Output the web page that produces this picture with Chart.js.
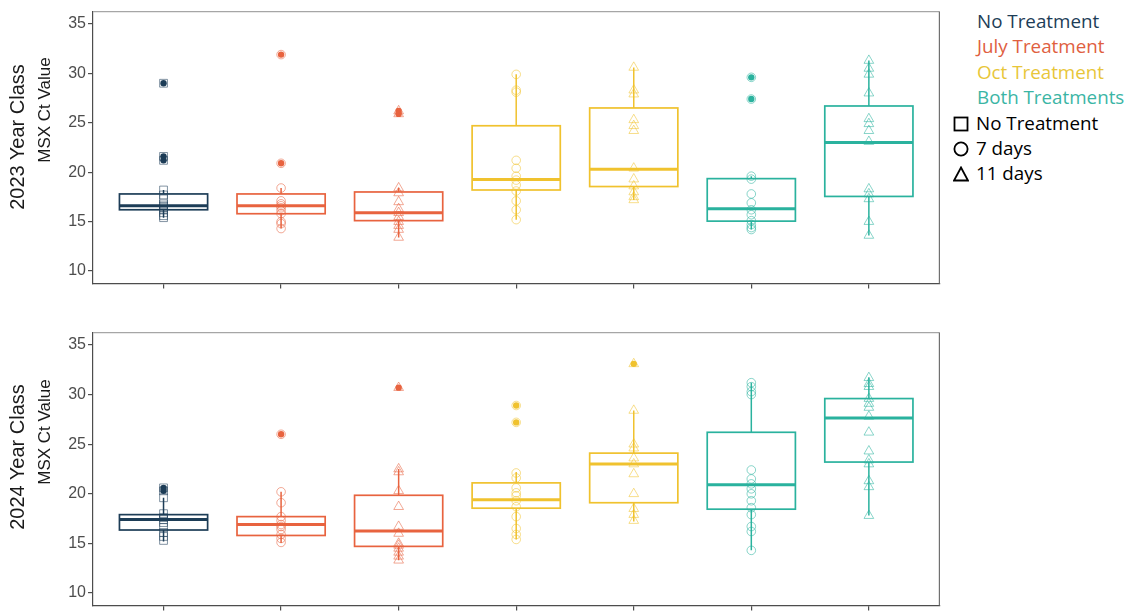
<!DOCTYPE html>
<html>
<head>
<meta charset="utf-8">
<script src="https://cdn.jsdelivr.net/npm/chart.js@4.4.1/dist/chart.umd.min.js"></script>
<style>
  html, body { margin: 0; padding: 0; background: #ffffff; }
  #wrap { position: relative; width: 1133px; height: 613px; overflow: hidden; font-family: "Liberation Sans", Arial, sans-serif; }
  #wrap canvas { position: absolute; left: 0; }
  .ylab { position: absolute; transform: translate(-50%, -50%) rotate(-90deg); white-space: nowrap; color: #1a1a1a; }
  .year { font-size: 20px; }
  .msx { font-size: 17px; }
  #legend { position: absolute; left: 953px; top: 9px; font-family: "Open Sans", sans-serif; font-size: 18.8px; line-height: 25.4px; white-space: nowrap; }
  #legend .txt { padding-left: 24px; }
  #legend svg { display: inline-block; vertical-align: -2px; margin-right: 7px; }
</style>
</head>
<body>
<div id="wrap">
  <canvas id="c2023" width="946" height="295" style="top:0px"></canvas>
  <canvas id="c2024" width="946" height="296" style="top:321px"></canvas>

  <div class="ylab year" style="left:17px; top:137px">2023 Year Class</div>
  <div class="ylab msx" style="left:45px; top:110px">MSX Ct Value</div>
  <div class="ylab year" style="left:17px; top:457px">2024 Year Class</div>
  <div class="ylab msx" style="left:45px; top:432px">MSX Ct Value</div>

  <div id="legend"></div>
</div>

<script>
// ---- categories and styling keys ----
const categories = ['No Treatment', 'July 7 days', 'July 11 days', 'Oct 7 days', 'Oct 11 days', 'Both 7 days', 'Both 11 days'];
const treatmentOf = [0, 1, 1, 2, 2, 3, 3];
const durationOf = [0, 1, 2, 1, 2, 1, 2];
const treatmentNames = ['No Treatment', 'July Treatment', 'Oct Treatment', 'Both Treatments'];
const treatmentColors = ['#1d3d57', '#e8633f', '#f0c22e', '#2ab29e'];
const durationNames = ['No Treatment', '7 days', '11 days'];
const durationShapes = ['rect', 'circle', 'triangle'];
const yTicks = [10, 15, 20, 25, 30, 35];
const yMin = 8.75, yMax = 36.25;

// ---- 2023 year class: box statistics ----
const low2023 = [15.4, 14.3, 13.4, 15.2, 17.2, 14.2, 13.6];
const q1_2023 = [16.2, 15.8, 15.1, 18.2, 18.55, 15.05, 17.55];
const med2023 = [16.6, 16.6, 15.9, 19.25, 20.3, 16.3, 23.0];
const q3_2023 = [17.8, 17.8, 18.0, 24.7, 26.5, 19.35, 26.7];
const high2023 = [18.2, 18.4, 18.4, 29.9, 30.6, 19.6, 31.3];

// ---- 2023 year class: individual values and outliers ----
const pts2023 = [
  [29.0, 21.6, 21.2, 18.2, 17.7, 17.3, 16.8, 16.6, 16.4, 16.2, 15.9, 15.6, 15.4],
  [31.9, 20.9, 18.4, 17.1, 16.8, 16.6, 16.4, 16.1, 15.8, 15.0, 14.8, 14.3],
  [26.2, 25.9, 18.4, 17.9, 17.0, 16.3, 15.9, 15.5, 15.0, 14.6, 14.2, 13.4],
  [29.9, 28.3, 28.1, 21.2, 20.4, 19.6, 19.2, 18.7, 18.1, 17.1, 16.2, 15.2],
  [30.6, 28.3, 27.9, 25.3, 24.7, 24.2, 20.4, 19.3, 18.6, 18.0, 17.5, 17.2],
  [29.6, 27.4, 19.6, 19.3, 17.8, 16.9, 16.2, 15.7, 15.1, 14.7, 14.4, 14.2],
  [31.3, 30.5, 29.9, 28.0, 25.4, 24.9, 24.2, 23.1, 18.3, 17.8, 17.3, 15.0, 13.6]
];
const out2023 = [[29.0, 21.6, 21.2], [31.9, 20.9], [26.2, 25.9], [], [], [29.6, 27.4], []];

// ---- 2024 year class: box statistics ----
const low2024 = [15.2, 15.05, 13.3, 15.4, 17.2, 14.3, 17.8];
const q1_2024 = [16.35, 15.8, 14.7, 18.55, 19.1, 18.45, 23.2];
const med2024 = [17.4, 16.9, 16.25, 19.4, 23.0, 20.9, 27.65];
const q3_2024 = [17.9, 17.7, 19.85, 21.1, 24.1, 26.2, 29.6];
const high2024 = [19.6, 20.2, 22.5, 22.2, 28.4, 31.2, 31.75];

// ---- 2024 year class: individual values and outliers ----
const pts2024 = [
  [20.6, 20.3, 19.6, 18.0, 17.6, 17.4, 17.1, 16.6, 16.1, 15.7, 15.3],
  [26.0, 20.2, 19.1, 17.7, 17.3, 16.9, 16.7, 16.4, 15.9, 15.5, 15.1],
  [30.7, 22.5, 22.2, 20.3, 18.7, 16.7, 16.0, 15.0, 14.8, 14.5, 14.1, 13.7, 13.3],
  [28.9, 27.2, 22.1, 21.6, 20.6, 20.1, 19.8, 19.3, 18.7, 17.7, 16.5, 15.9, 15.4],
  [33.1, 28.4, 25.0, 24.6, 23.6, 23.0, 22.0, 20.0, 18.5, 17.9, 17.3],
  [31.2, 30.8, 30.3, 30.0, 22.4, 21.5, 21.0, 20.5, 20.0, 19.3, 18.6, 17.9, 16.7, 16.2, 14.3],
  [31.7, 31.1, 30.8, 29.6, 29.1, 28.7, 27.8, 26.2, 24.3, 23.4, 23.0, 21.3, 20.7, 17.8]
];
const out2024 = [[20.6, 20.3], [26.0], [30.7], [28.9, 27.2], [33.1], [], []];

// ---- helpers ----
function withAlpha(hex, a) {
  const n = parseInt(hex.slice(1), 16);
  return 'rgba(' + ((n >> 16) & 255) + ',' + ((n >> 8) & 255) + ',' + (n & 255) + ',' + a + ')';
}
const markerRadius = { rect: 5.5, circle: 4.3, triangle: 5.6 };
const boxHalfWidth = 0.375;

// box-and-whisker layer, drawn through the chart's own scales
const boxPlugin = {
  id: 'boxes',
  afterDatasetsDraw(chart, args, opts) {
    const { ctx, scales: { x, y } } = chart;
    const s = opts.stats;
    ctx.save();
    for (let i = 0; i < categories.length; i++) {
      const col = treatmentColors[treatmentOf[i]];
      const xc = x.getPixelForValue(i + 1);
      const xl = x.getPixelForValue(i + 1 - boxHalfWidth);
      const xr = x.getPixelForValue(i + 1 + boxHalfWidth);
      const yLow = y.getPixelForValue(s.low[i]);
      const yQ1 = y.getPixelForValue(s.q1[i]);
      const yMed = y.getPixelForValue(s.med[i]);
      const yQ3 = y.getPixelForValue(s.q3[i]);
      const yHigh = y.getPixelForValue(s.high[i]);
      ctx.strokeStyle = col;
      // whiskers
      ctx.lineWidth = 1.5;
      ctx.beginPath();
      ctx.moveTo(xc, yQ3); ctx.lineTo(xc, yHigh);
      ctx.moveTo(xc, yQ1); ctx.lineTo(xc, yLow);
      ctx.stroke();
      // box
      ctx.lineWidth = 1.7;
      ctx.strokeRect(xl, yQ3, xr - xl, yQ1 - yQ3);
      // median
      ctx.lineWidth = 3;
      ctx.beginPath();
      ctx.moveTo(xl, yMed); ctx.lineTo(xr, yMed);
      ctx.stroke();
    }
    ctx.restore();
  }
};

// panel frame
const framePlugin = {
  id: 'frame',
  afterDraw(chart) {
    const { ctx, chartArea: a } = chart;
    ctx.save();
    ctx.lineWidth = 1.2;
    ctx.strokeStyle = '#a6a6a6';
    ctx.beginPath(); ctx.moveTo(a.left, a.top); ctx.lineTo(a.right, a.top); ctx.stroke();
    ctx.strokeStyle = '#707070';
    ctx.beginPath(); ctx.moveTo(a.right, a.top); ctx.lineTo(a.right, a.bottom); ctx.stroke();
    ctx.restore();
  }
};

function makePanel(canvasId, stats, pts, outs) {
  const datasets = [];
  categories.forEach((c, i) => {
    const col = treatmentColors[treatmentOf[i]];
    const shape = durationShapes[durationOf[i]];
    datasets.push({
      label: c,
      data: pts[i].map(v => ({ x: i + 1, y: v })),
      pointStyle: shape,
      pointRadius: markerRadius[shape],
      pointBorderWidth: 1,
      borderColor: withAlpha(col, 0.55),
      backgroundColor: 'rgba(0,0,0,0)',
      order: 1
    });
    datasets.push({
      label: c + ' outliers',
      data: outs[i].map(v => ({ x: i + 1, y: v })),
      pointStyle: 'circle',
      pointRadius: 3.2,
      pointBorderWidth: 0,
      borderColor: col,
      backgroundColor: col,
      order: 2
    });
  });

  const axisColor = '#4d4d4d';
  return new Chart(document.getElementById(canvasId), {
    type: 'scatter',
    data: { datasets },
    options: {
      responsive: false,
      animation: false,
      events: [],
      layout: { padding: { top: 3, right: 2, left: 0, bottom: 0 } },
      plugins: {
        legend: { display: false },
        tooltip: { enabled: false },
        boxes: { stats }
      },
      scales: {
        x: {
          type: 'linear',
          min: 0.4,
          max: 7.6,
          afterBuildTicks: s => { s.ticks = categories.map((c, i) => ({ value: i + 1 })); },
          afterFit: s => { s.height = 10; },
          ticks: { callback: () => '', autoSkip: false },
          grid: { drawOnChartArea: false, drawTicks: true, tickLength: 5, color: axisColor, lineWidth: 1.2 },
          border: { display: true, color: axisColor, width: 1.2 }
        },
        y: {
          type: 'linear',
          min: yMin,
          max: yMax,
          afterBuildTicks: s => { s.ticks = yTicks.map(v => ({ value: v })); },
          afterFit: s => { s.width = 93; },
          ticks: { color: axisColor, padding: 2, font: { family: 'Liberation Sans', size: 16 } },
          grid: { drawOnChartArea: false, drawTicks: true, tickLength: 5, color: axisColor, lineWidth: 1.2 },
          border: { display: true, color: axisColor, width: 1.2 }
        }
      }
    },
    plugins: [boxPlugin, framePlugin]
  });
}

makePanel('c2023', { low: low2023, q1: q1_2023, med: med2023, q3: q3_2023, high: high2023 }, pts2023, out2023);
makePanel('c2024', { low: low2024, q1: q1_2024, med: med2024, q3: q3_2024, high: high2024 }, pts2024, out2024);

// ---- legend: treatment colours, then duration shapes ----
const legendTextColors = ['#1d3d57', '#e0603f', '#e8c63a', '#3bb5a5'];
const shapeSvg = {
  rect: '<svg width="16" height="16" viewBox="0 0 16 16"><rect x="1.5" y="1.5" width="13" height="13" fill="none" stroke="#000" stroke-width="1.8"/></svg>',
  circle: '<svg width="16" height="16" viewBox="0 0 16 16"><circle cx="8" cy="8" r="6.6" fill="none" stroke="#000" stroke-width="1.8"/></svg>',
  triangle: '<svg width="16" height="16" viewBox="0 0 16 16"><polygon points="8,1.5 15,14.5 1,14.5" fill="none" stroke="#000" stroke-width="1.8" stroke-linejoin="miter"/></svg>'
};
const legend = document.getElementById('legend');
treatmentNames.forEach((name, i) => {
  const d = document.createElement('div');
  d.className = 'txt';
  d.style.color = legendTextColors[i];
  d.textContent = name;
  legend.appendChild(d);
});
durationNames.forEach((name, i) => {
  const d = document.createElement('div');
  d.style.color = '#000';
  d.innerHTML = shapeSvg[durationShapes[i]];
  d.appendChild(document.createTextNode(name));
  legend.appendChild(d);
});
</script>
</body>
</html>
